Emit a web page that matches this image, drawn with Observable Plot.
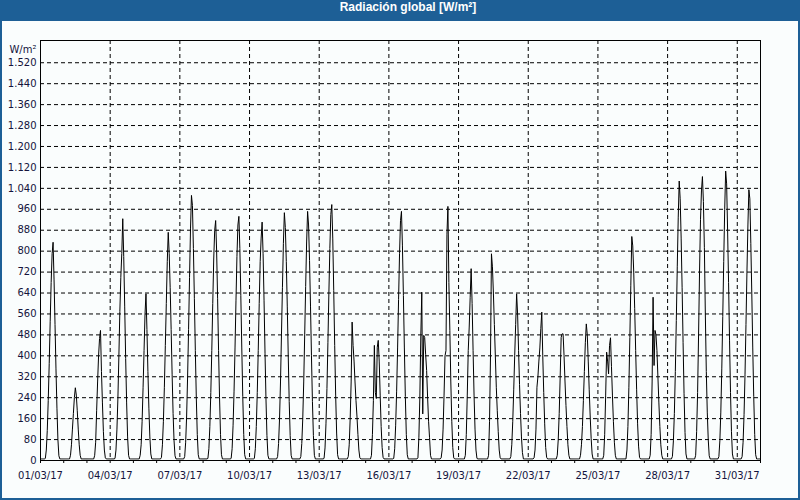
<!DOCTYPE html>
<html>
<head>
<meta charset="utf-8">
<script src="https://cdn.jsdelivr.net/npm/d3@7"></script>
<script src="https://cdn.jsdelivr.net/npm/@observablehq/plot@0.6"></script>
<style>
  html, body { margin: 0; padding: 0; background: #fafdfd; }
  #panel { position: relative; width: 800px; height: 500px; background: #fafdfd; overflow: hidden; }
  #title { position: absolute; left: 0; top: 0; width: 800px; height: 21px; background: #1d5f96; }
  #title span { position: absolute; left: 408px; top: 0; transform: translateX(-50%); line-height: 21px;
    font: bold 12px "Liberation Sans", Arial, sans-serif; color: #ffffff; white-space: nowrap; }
  #chart { position: absolute; left: 0; top: 20px; }
  #border { position: absolute; left: 0; top: 0; width: 800px; height: 500px; box-sizing: border-box;
    border: 2px solid #1d5f96; border-top: none; pointer-events: none; }
</style>
</head>
<body>
<div id="panel">
  <div id="title"><span>Radiación global [W/m²]</span></div>
  <div id="chart"></div>
  <div id="border"></div>
</div>
<script>
// ---- data ----
const yUnit = "W/m²";
const xTickLabels = ["01/03/17","04/03/17","07/03/17","10/03/17","13/03/17","16/03/17","19/03/17","22/03/17","25/03/17","28/03/17","31/03/17"];
const yTicks = [0,80,160,240,320,400,480,560,640,720,800,880,960,1040,1120,1200,1280,1360,1440,1520];
// hourly values (W/m²) for hours 5..20 of each day of March 2017; other hours at night level
const hoursOfDay = [5,6,7,8,9,10,11,12,13,14,15,16,17,18,19,20];
const nightValue = 6;
const dailyRadiation = [
  [8, 40, 115, 230, 370, 530, 680, 790, 834, 690, 520, 350, 200, 80, 18, 6],      // 01
  [6, 6, 20, 60, 120, 180, 240, 278, 250, 190, 120, 60, 20, 6, 6, 6],             // 02
  [6, 6, 6, 20, 70, 190, 300, 400, 466, 497, 340, 220, 110, 40, 10, 6],           // 03
  [8, 40, 120, 240, 400, 570, 700, 791, 924, 780, 590, 390, 220, 90, 20, 6],      // 04
  [6, 6, 20, 60, 150, 280, 420, 560, 637, 500, 340, 200, 90, 25, 6, 6],           // 05
  [12, 60, 150, 280, 440, 600, 760, 872, 790, 660, 500, 330, 180, 75, 18, 6],     // 06
  [15, 70, 170, 320, 500, 700, 885, 1013, 975, 810, 620, 420, 240, 100, 22, 6],   // 07
  [8, 45, 130, 260, 420, 600, 770, 880, 917, 800, 620, 420, 240, 100, 22, 6],     // 08
  [8, 45, 135, 265, 430, 610, 780, 900, 933, 810, 630, 430, 245, 100, 22, 6],     // 09
  [8, 45, 130, 260, 420, 600, 760, 850, 911, 790, 610, 410, 235, 95, 20, 6],      // 10
  [15, 65, 160, 300, 480, 660, 830, 947, 890, 760, 590, 400, 225, 95, 20, 6],     // 11
  [15, 65, 160, 300, 480, 665, 835, 952, 900, 765, 590, 400, 225, 95, 20, 6],     // 12
  [8, 48, 140, 275, 450, 640, 810, 940, 978, 850, 650, 440, 250, 105, 22, 6],     // 13
  [6, 15, 60, 160, 300, 529, 440, 380, 300, 230, 170, 100, 40, 10, 6, 6],         // 14
  [6, 20, 100, 230, 440, 260, 237, 433, 459, 380, 250, 130, 50, 12, 6, 6],        // 15
  [8, 45, 135, 265, 430, 615, 790, 917, 952, 820, 630, 430, 245, 100, 22, 6],     // 16
  [6, 10, 89, 242, 478, 643, 178, 478, 470, 404, 344, 242, 150, 87, 20, 6],       // 17
  [6, 10, 40, 120, 250, 400, 420, 865, 971, 680, 497, 300, 150, 50, 10, 6],       // 18
  [6, 6, 20, 100, 250, 420, 510, 624, 733, 600, 420, 250, 120, 40, 8, 6],         // 19
  [6, 6, 20, 150, 400, 790, 740, 640, 520, 400, 280, 190, 110, 40, 10, 6],        // 20
  [6, 15, 60, 150, 270, 400, 520, 637, 560, 420, 290, 180, 90, 30, 6, 6],         // 21
  [6, 10, 40, 120, 280, 320, 380, 430, 505, 567, 400, 260, 140, 50, 12, 6],       // 22
  [6, 20, 80, 180, 320, 470, 484, 484, 400, 300, 210, 130, 60, 20, 6, 6],         // 23
  [6, 20, 60, 130, 230, 340, 450, 522, 480, 380, 270, 170, 85, 25, 6, 6],         // 24
  [6, 20, 100, 250, 414, 380, 331, 440, 469, 360, 250, 150, 70, 20, 6, 6],        // 25
  [6, 40, 130, 280, 470, 670, 856, 820, 720, 580, 420, 270, 140, 55, 12, 6],      // 26
  [6, 20, 100, 300, 624, 363, 497, 480, 420, 320, 220, 130, 60, 20, 6, 6],        // 27
  [16, 75, 180, 340, 535, 740, 930, 1068, 1000, 850, 660, 450, 255, 107, 25, 6],  // 28
  [20, 110, 260, 480, 720, 920, 1030, 1085, 990, 815, 560, 340, 185, 80, 18, 6],  // 29
  [15, 75, 185, 350, 550, 760, 960, 1106, 1057, 880, 680, 460, 260, 110, 25, 6],  // 30
  [15, 70, 175, 330, 520, 720, 900, 1035, 1000, 830, 640, 430, 245, 100, 22, 6]   // 31
];

// ---- build the hourly table ----
const start = new Date(Date.UTC(2017, 2, 1));
const end = new Date(Date.UTC(2017, 3, 1));
const series = [];
dailyRadiation.forEach((row, d) => {
  for (let h = 0; h < 24; h++) {
    const i = hoursOfDay.indexOf(h);
    series.push({date: new Date(start.getTime() + (d * 24 + h) * 3600e3), value: i >= 0 ? row[i] : nightValue});
  }
});
series.push({date: end, value: nightValue});

const parseLabel = d3.utcParse("%d/%m/%y");
const xTickDates = xTickLabels.map(parseLabel);
const labelOf = new Map(xTickDates.map((d, i) => [+d, xTickLabels[i]]));
const dayTicks = d3.utcDays(start, new Date(end.getTime() + 1));
const fmtY = d3.formatLocale({decimal: ",", thousands: ".", grouping: [3], currency: ["", ""]}).format(",");
const ink = "#14143c";

const chart = Plot.plot({
  width: 800,
  height: 480,
  marginLeft: 40,
  marginRight: 40,
  marginTop: 20,
  marginBottom: 40,
  x: {type: "utc", domain: [start, end], label: null},
  y: {domain: [0, 1605], label: null},
  style: {fontFamily: "'DejaVu Sans', sans-serif", fontSize: "10px", color: ink, background: "transparent", overflow: "visible"},
  marks: [
    Plot.gridY(yTicks.filter(v => v > 0), {stroke: "#000", strokeOpacity: 1, strokeDasharray: "4,3"}),
    Plot.gridX(xTickDates.slice(1), {stroke: "#000", strokeOpacity: 1, strokeDasharray: "4,3"}),
    Plot.line(series, {x: "date", y: "value", stroke: "#000", strokeWidth: 1}),
    Plot.frame({stroke: "#000"}),
    Plot.axisY({ticks: yTicks, tickFormat: fmtY, tickSize: 0, tickPadding: 4, fill: ink}),
    Plot.axisX({ticks: dayTicks, tickSize: 3, tickFormat: () => "", stroke: "#000"}),
    Plot.axisX({ticks: xTickDates, tickSize: 0, tickPadding: 11, tickFormat: d => labelOf.get(+d), fill: ink}),
    Plot.text([yUnit], {frameAnchor: "top-left", dx: -4, dy: 5, textAnchor: "end", fill: ink})
  ]
});
document.getElementById("chart").appendChild(chart);
</script>
</body>
</html>
